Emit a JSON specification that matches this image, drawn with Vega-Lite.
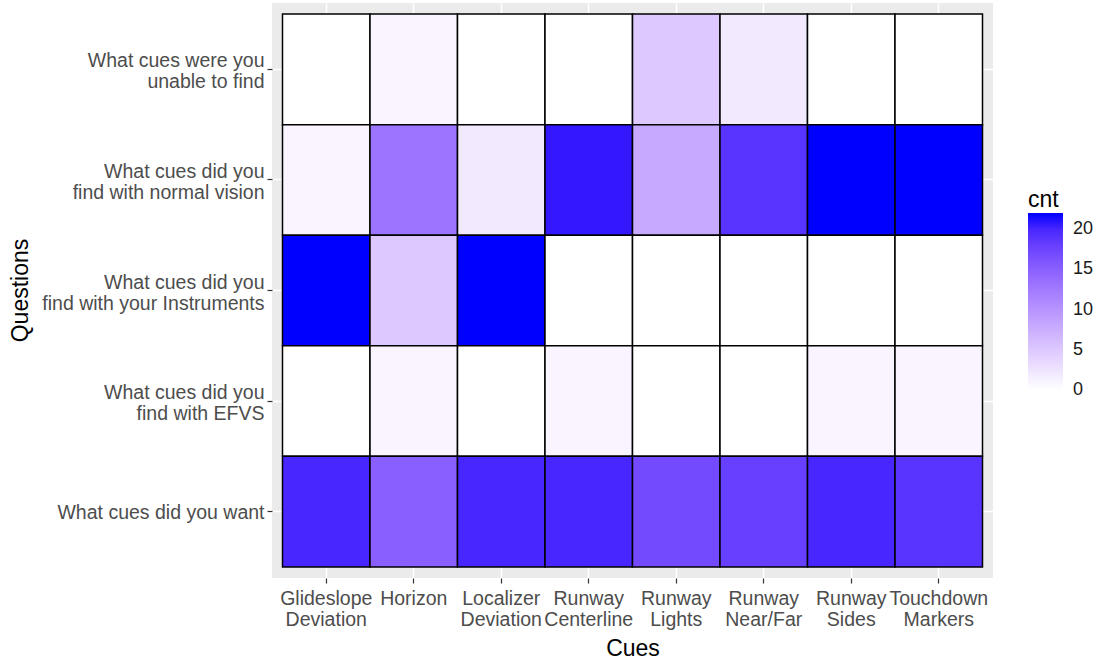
{
  "$schema": "https://vega.github.io/schema/vega-lite/v6.json",
  "autosize": {"type": "none"},
  "padding": {"left": 272, "top": 3, "right": 107, "bottom": 84},
  "width": 721,
  "height": 575,
  "background": "#ffffff",
  "config": {
    "view": {"fill": "#EBEBEB", "stroke": null},
    "font": "Liberation Sans"
  },
  "data": {
    "values": [
      {"cue": "Glideslope Deviation", "question": "What cues were you\nunable to find", "cnt": 0},
      {"cue": "Horizon", "question": "What cues were you\nunable to find", "cnt": 1},
      {"cue": "Localizer Deviation", "question": "What cues were you\nunable to find", "cnt": 0},
      {"cue": "Runway Centerline", "question": "What cues were you\nunable to find", "cnt": 0},
      {"cue": "Runway Lights", "question": "What cues were you\nunable to find", "cnt": 5},
      {"cue": "Runway Near/Far", "question": "What cues were you\nunable to find", "cnt": 2},
      {"cue": "Runway Sides", "question": "What cues were you\nunable to find", "cnt": 0},
      {"cue": "Touchdown Markers", "question": "What cues were you\nunable to find", "cnt": 0},

      {"cue": "Glideslope Deviation", "question": "What cues did you\nfind with normal vision", "cnt": 1},
      {"cue": "Horizon", "question": "What cues did you\nfind with normal vision", "cnt": 13},
      {"cue": "Localizer Deviation", "question": "What cues did you\nfind with normal vision", "cnt": 2},
      {"cue": "Runway Centerline", "question": "What cues did you\nfind with normal vision", "cnt": 21},
      {"cue": "Runway Lights", "question": "What cues did you\nfind with normal vision", "cnt": 8},
      {"cue": "Runway Near/Far", "question": "What cues did you\nfind with normal vision", "cnt": 19},
      {"cue": "Runway Sides", "question": "What cues did you\nfind with normal vision", "cnt": 22},
      {"cue": "Touchdown Markers", "question": "What cues did you\nfind with normal vision", "cnt": 22},

      {"cue": "Glideslope Deviation", "question": "What cues did you\nfind with your Instruments", "cnt": 22},
      {"cue": "Horizon", "question": "What cues did you\nfind with your Instruments", "cnt": 5},
      {"cue": "Localizer Deviation", "question": "What cues did you\nfind with your Instruments", "cnt": 22},
      {"cue": "Runway Centerline", "question": "What cues did you\nfind with your Instruments", "cnt": 0},
      {"cue": "Runway Lights", "question": "What cues did you\nfind with your Instruments", "cnt": 0},
      {"cue": "Runway Near/Far", "question": "What cues did you\nfind with your Instruments", "cnt": 0},
      {"cue": "Runway Sides", "question": "What cues did you\nfind with your Instruments", "cnt": 0},
      {"cue": "Touchdown Markers", "question": "What cues did you\nfind with your Instruments", "cnt": 0},

      {"cue": "Glideslope Deviation", "question": "What cues did you\nfind with EFVS", "cnt": 0},
      {"cue": "Horizon", "question": "What cues did you\nfind with EFVS", "cnt": 1},
      {"cue": "Localizer Deviation", "question": "What cues did you\nfind with EFVS", "cnt": 0},
      {"cue": "Runway Centerline", "question": "What cues did you\nfind with EFVS", "cnt": 1},
      {"cue": "Runway Lights", "question": "What cues did you\nfind with EFVS", "cnt": 0},
      {"cue": "Runway Near/Far", "question": "What cues did you\nfind with EFVS", "cnt": 0},
      {"cue": "Runway Sides", "question": "What cues did you\nfind with EFVS", "cnt": 1},
      {"cue": "Touchdown Markers", "question": "What cues did you\nfind with EFVS", "cnt": 1},

      {"cue": "Glideslope Deviation", "question": "What cues did you want", "cnt": 20},
      {"cue": "Horizon", "question": "What cues did you want", "cnt": 15},
      {"cue": "Localizer Deviation", "question": "What cues did you want", "cnt": 20},
      {"cue": "Runway Centerline", "question": "What cues did you want", "cnt": 20},
      {"cue": "Runway Lights", "question": "What cues did you want", "cnt": 17},
      {"cue": "Runway Near/Far", "question": "What cues did you want", "cnt": 18},
      {"cue": "Runway Sides", "question": "What cues did you want", "cnt": 20},
      {"cue": "Touchdown Markers", "question": "What cues did you want", "cnt": 19}
    ]
  },
  "mark": {"type": "rect", "stroke": "#000000", "strokeWidth": 1.5, "zindex": 1},
  "encoding": {
    "x": {
      "field": "cue",
      "type": "nominal",
      "sort": ["Glideslope Deviation", "Horizon", "Localizer Deviation", "Runway Centerline", "Runway Lights", "Runway Near/Far", "Runway Sides", "Touchdown Markers"],
      "scale": {"paddingInner": 0, "paddingOuter": 0.12},
      "axis": {
        "zindex": 0,
        "title": "Cues",
        "titleFont": "Liberation Sans",
        "titleFontSize": 23,
        "titleFontWeight": "normal",
        "titleColor": "#000000",
        "titlePadding": 9,
        "labelExpr": "split(datum.label, ' ')",
        "labelAngle": 0,
        "labelAlign": "center",
        "labelBaseline": "top",
        "labelFont": "Liberation Sans",
        "labelFontSize": 19.5,
        "labelColor": "#4D4D4D",
        "labelLineHeight": 21,
        "labelPadding": 6,
        "labelOverlap": false,
        "labelLimit": 0,
        "bandPosition": 0.5,
        "tickColor": "#333333",
        "tickWidth": 1.2,
        "tickSize": 5,
        "domain": false,
        "grid": true,
        "gridColor": "#ffffff",
        "gridWidth": 1.5
      }
    },
    "y": {
      "field": "question",
      "type": "nominal",
      "sort": ["What cues were you\nunable to find", "What cues did you\nfind with normal vision", "What cues did you\nfind with your Instruments", "What cues did you\nfind with EFVS", "What cues did you want"],
      "scale": {"paddingInner": 0, "paddingOuter": 0.1},
      "axis": {
        "zindex": 0,
        "title": "Questions",
        "titleFont": "Liberation Sans",
        "titleFontSize": 23,
        "titleFontWeight": "normal",
        "titleColor": "#000000",
        "titleX": -252,
        "titleY": 287,
        "titleAngle": -90,
        "titleAlign": "center",
        "titleBaseline": "middle",
        "labelExpr": "split(datum.label, '\\n')",
        "labelAlign": "right",
        "labelBaseline": "middle",
        "labelOffset": {"condition": {"test": "indexof(datum.value, '\\n') >= 0", "value": -8}, "value": 1},
        "labelFont": "Liberation Sans",
        "labelFontSize": 19.5,
        "labelColor": "#4D4D4D",
        "labelLineHeight": 21,
        "labelPadding": 3,
        "labelLimit": 0,
        "labelOverlap": false,
        "bandPosition": 0.5,
        "tickColor": "#333333",
        "tickWidth": 1.2,
        "tickSize": 5,
        "domain": false,
        "grid": true,
        "gridColor": "#ffffff",
        "gridWidth": 1.5
      }
    },
    "color": {
      "field": "cnt",
      "type": "quantitative",
      "scale": {"domain": [0, 22], "range": ["#ffffff", "#0000ff"], "interpolate": "lab"},
      "legend": {
        "title": "cnt",
        "orient": "none",
        "legendX": 756,
        "legendY": 186,
        "padding": 0,
        "direction": "vertical",
        "gradientLength": 177,
        "gradientThickness": 35,
        "gradientStrokeWidth": 0,
        "values": [0, 5, 10, 15, 20],
        "titleFont": "Liberation Sans",
        "titleFontSize": 23,
        "titleFontWeight": "normal",
        "titleColor": "#000000",
        "titlePadding": 1,
        "labelFont": "Liberation Sans",
        "labelFontSize": 18,
        "labelColor": "#1a1a1a",
        "labelBaseline": "middle",
        "labelOffset": 10,
        "labelOverlap": false,
        "encode": {"labels": {"update": {"baseline": {"value": "middle"}}}}
      }
    }
  }
}
